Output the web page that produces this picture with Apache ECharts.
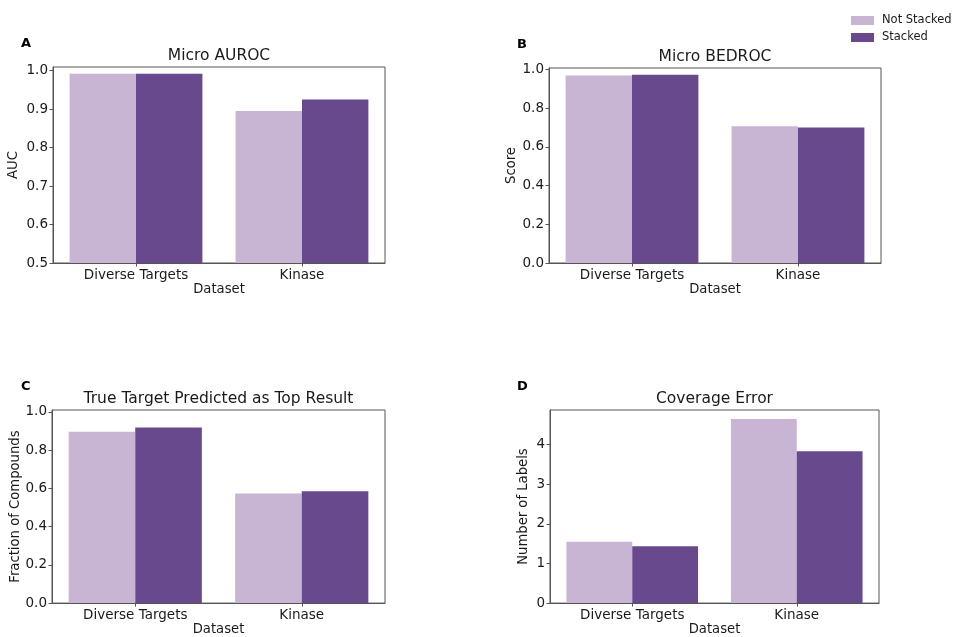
<!DOCTYPE html>
<html>
<head>
<meta charset="utf-8">
<script src="https://cdn.jsdelivr.net/npm/echarts@6/dist/echarts.min.js"></script>
<style>
  html, body { margin: 0; padding: 0; background: #fff; }
  #chart { width: 955px; height: 637px; }
</style>
</head>
<body>
<div id="chart"></div>
<script>
// ---- data ----
const categories = ['Diverse Targets', 'Kinase'];
const seriesNames = ['Not Stacked', 'Stacked'];

const aurocNotStacked = [0.992, 0.895];
const aurocStacked = [0.992, 0.925];

const bedrocNotStacked = [0.969, 0.707];
const bedrocStacked = [0.974, 0.700];

const topNotStacked = [0.896, 0.574];
const topStacked = [0.919, 0.585];

const coverageNotStacked = [1.546, 4.646];
const coverageStacked = [1.436, 3.83];

const aurocTicks = [0.5, 0.6, 0.7, 0.8, 0.9, 1.0];
const bedrocTicks = [0.0, 0.2, 0.4, 0.6, 0.8, 1.0];
const topTicks = [0.0, 0.2, 0.4, 0.6, 0.8, 1.0];
const coverageTicks = [0, 1, 2, 3, 4];

const panelTitles = ['Micro AUROC', 'Micro BEDROC', 'True Target Predicted as Top Result', 'Coverage Error'];
const panelLetters = ['A', 'B', 'C', 'D'];
const yNames = ['AUC', 'Score', 'Fraction of Compounds', 'Number of Labels'];
const xName = 'Dataset';

// ---- styling / layout ----
const FONT = 'DejaVu Sans';
const TXT = '#1a1a1a';
const AX = '#555';
const LIGHT = '#c7b5d3';
const DARK = '#69498e';

const grids = [
  { left: 53, top: 67, width: 332, height: 196 },
  { left: 549, top: 68, width: 332, height: 195 },
  { left: 52, top: 410, width: 333, height: 195 },
  { left: 550, top: 410, width: 329, height: 195 }
];
const yRanges = [
  { min: 0.5, max: 1.0096, ticks: aurocTicks, dec: 1 },
  { min: 0, max: 1.0083, ticks: bedrocTicks, dec: 1 },
  { min: 0, max: 1.0103, ticks: topTicks, dec: 1 },
  { min: 0, max: 4.87, ticks: coverageTicks, dec: 0 }
];
const yNameGaps = [33, 31, 30, 20];
const dataPairs = [
  [aurocNotStacked, aurocStacked],
  [bedrocNotStacked, bedrocStacked],
  [topNotStacked, topStacked],
  [coverageNotStacked, coverageStacked]
];

const option = {
  animation: false,
  backgroundColor: '#fff',
  textStyle: { fontFamily: FONT, color: TXT },
  title: [],
  legend: {
    data: seriesNames,
    orient: 'vertical',
    left: 851,
    top: 14,
    itemWidth: 23,
    itemHeight: 9,
    itemGap: 4,
    padding: 0,
    icon: 'rect',
    textStyle: { fontFamily: FONT, fontSize: 11.5, color: TXT, padding: [0, 0, 0, 3], lineHeight: 13 }
  },
  grid: grids.map(g => Object.assign({ show: true, borderColor: AX, borderWidth: 1, backgroundColor: '#fff' }, g)),
  xAxis: grids.map((g, i) => ({
    type: 'category',
    gridIndex: i,
    data: categories,
    name: xName,
    nameLocation: 'middle',
    nameGap: 18,
    nameTextStyle: { fontFamily: FONT, fontSize: 13.2, color: TXT },
    axisLine: { show: true, lineStyle: { color: AX, width: 1 } },
    axisTick: { show: true, alignWithLabel: true, length: 3.5, lineStyle: { color: AX } },
    axisLabel: { fontFamily: FONT, fontSize: 13.5, color: TXT, margin: 5 },
    splitLine: { show: false }
  })),
  yAxis: grids.map((g, i) => ({
    type: 'value',
    gridIndex: i,
    min: yRanges[i].min,
    max: yRanges[i].max,
    name: yNames[i],
    nameLocation: 'middle',
    nameRotate: 90,
    nameGap: yNameGaps[i],
    nameTextStyle: { fontFamily: FONT, fontSize: 13.2, color: TXT },
    axisLine: { show: true, lineStyle: { color: AX, width: 1 } },
    axisTick: { show: true, length: 3.5, lineStyle: { color: AX }, customValues: yRanges[i].ticks },
    axisLabel: {
      fontFamily: FONT, fontSize: 13.5, color: TXT, margin: 5,
      customValues: yRanges[i].ticks,
      formatter: (v) => Number(v).toFixed(yRanges[i].dec)
    },
    splitLine: { show: false }
  })),
  series: []
};

// titles
grids.forEach((g, i) => {
  option.title.push({
    text: panelTitles[i],
    left: g.left + g.width / 2,
    top: g.top - 19,
    textAlign: 'center',
    padding: 0,
    textStyle: { fontFamily: FONT, fontSize: 15.5, fontWeight: 'normal', color: TXT }
  });
  option.title.push({
    text: panelLetters[i],
    left: i % 2 === 0 ? 21 : 517,
    top: g.top - 30,
    padding: 0,
    textStyle: { fontFamily: FONT, fontSize: 13, fontWeight: 'bold', color: '#000' }
  });
});

// series
dataPairs.forEach((pair, i) => {
  [0, 1].forEach(k => {
    option.series.push({
      type: 'bar',
      name: seriesNames[k],
      xAxisIndex: i,
      yAxisIndex: i,
      data: pair[k],
      barGap: '0%',
      barCategoryGap: '20%',
      itemStyle: { color: k === 0 ? LIGHT : DARK },
      emphasis: { disabled: true }
    });
  });
});

const chart = echarts.init(document.getElementById('chart'), null, { renderer: 'canvas' });
chart.setOption(option);
</script>
</body>
</html>
